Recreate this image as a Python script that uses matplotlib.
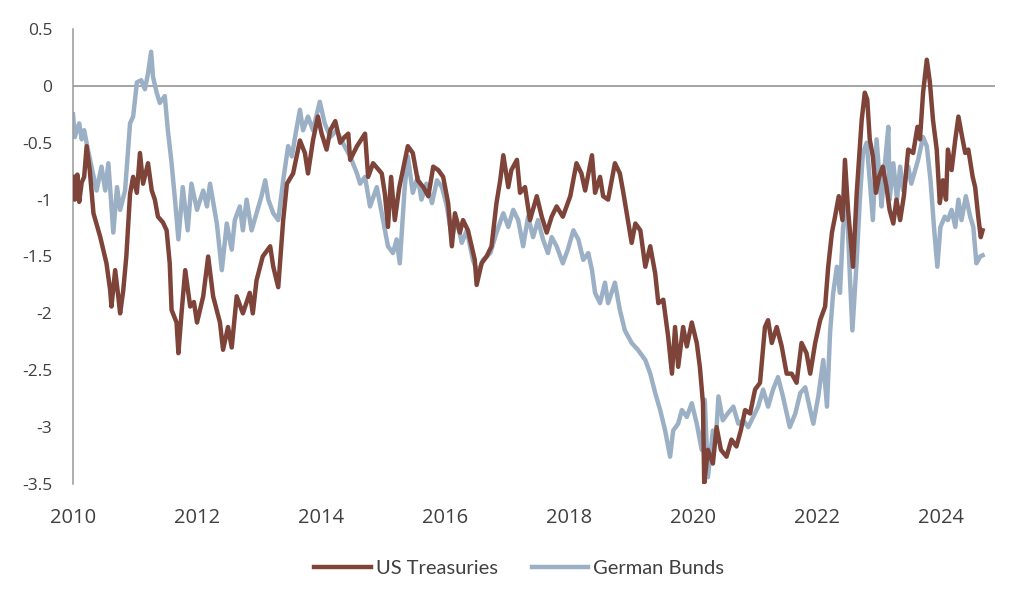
import matplotlib.pyplot as plt

# US Treasuries (decimal year, value)
us_dates = [
    2010.00, 2010.03, 2010.07, 2010.10, 2010.14, 2010.18, 2010.22, 2010.27, 2010.33, 2010.44,
    2010.54, 2010.60, 2010.62, 2010.68, 2010.73, 2010.76, 2010.81, 2010.86, 2010.92, 2010.97,
    2011.03, 2011.08, 2011.13, 2011.21, 2011.27, 2011.32, 2011.37, 2011.45, 2011.51, 2011.56,
    2011.59, 2011.67, 2011.70, 2011.75, 2011.81, 2011.89, 2011.95, 2012.00, 2012.10, 2012.18,
    2012.26, 2012.37, 2012.42, 2012.50, 2012.56, 2012.64, 2012.74, 2012.85, 2012.90, 2012.96,
    2013.06, 2013.18, 2013.23, 2013.31, 2013.39, 2013.45, 2013.55, 2013.66, 2013.74, 2013.79,
    2013.87, 2013.95, 2014.01, 2014.09, 2014.15, 2014.23, 2014.31, 2014.38, 2014.44, 2014.47,
    2014.58, 2014.71, 2014.76, 2014.84, 2014.98, 2015.03, 2015.08, 2015.13, 2015.19, 2015.26,
    2015.32, 2015.40, 2015.48, 2015.56, 2015.65, 2015.73, 2015.81, 2015.89, 2015.97, 2016.05,
    2016.11, 2016.16, 2016.24, 2016.29, 2016.37, 2016.43, 2016.48, 2016.51, 2016.59, 2016.67,
    2016.75, 2016.83, 2016.89, 2016.94, 2017.02, 2017.07, 2017.16, 2017.21, 2017.29, 2017.37,
    2017.48, 2017.56, 2017.64, 2017.72, 2017.80, 2017.90, 2018.02, 2018.12, 2018.20, 2018.26,
    2018.37, 2018.42, 2018.50, 2018.55, 2018.63, 2018.74, 2018.82, 2018.87, 2018.95, 2019.01,
    2019.07, 2019.15, 2019.23, 2019.31, 2019.39, 2019.44, 2019.52, 2019.60, 2019.66, 2019.71,
    2019.76, 2019.84, 2019.90, 2019.98, 2020.06, 2020.11, 2020.16, 2020.18, 2020.24, 2020.32,
    2020.38, 2020.45, 2020.54, 2020.62, 2020.70, 2020.77, 2020.84, 2020.92, 2021.00, 2021.08,
    2021.16, 2021.21, 2021.27, 2021.35, 2021.43, 2021.51, 2021.59, 2021.67, 2021.75, 2021.83,
    2021.89, 2021.97, 2022.05, 2022.13, 2022.18, 2022.24, 2022.29, 2022.35, 2022.41, 2022.45,
    2022.50, 2022.58, 2022.64, 2022.72, 2022.77, 2022.81, 2022.85, 2022.90, 2022.95, 2023.00,
    2023.06, 2023.12, 2023.17, 2023.23, 2023.28, 2023.34, 2023.40, 2023.47, 2023.55, 2023.62,
    2023.66, 2023.71, 2023.77, 2023.82, 2023.87, 2023.93, 2023.98, 2024.03, 2024.08, 2024.11,
    2024.17, 2024.23, 2024.28, 2024.33, 2024.39, 2024.44, 2024.51, 2024.55, 2024.60, 2024.64,
    2024.67,
]
us_vals = [
    -0.80, -1.00, -0.78, -1.02, -0.85, -0.80, -0.53, -0.74, -1.12, -1.33,
    -1.56, -1.80, -1.94, -1.62, -1.85, -2.00, -1.80, -1.50, -0.95, -0.80,
    -0.94, -0.59, -0.86, -0.68, -0.92, -1.00, -1.15, -1.20, -1.27, -1.56,
    -1.97, -2.08, -2.35, -2.00, -1.62, -1.94, -1.90, -2.08, -1.85, -1.50,
    -1.85, -2.08, -2.32, -2.12, -2.30, -1.85, -2.00, -1.82, -2.00, -1.71,
    -1.50, -1.41, -1.59, -1.77, -1.18, -0.86, -0.77, -0.48, -0.59, -0.77,
    -0.48, -0.27, -0.42, -0.56, -0.39, -0.31, -0.50, -0.45, -0.42, -0.65,
    -0.53, -0.42, -0.80, -0.68, -0.77, -0.95, -1.24, -0.80, -1.18, -0.90,
    -0.74, -0.53, -0.59, -0.83, -0.89, -0.97, -0.71, -0.74, -0.80, -1.03,
    -1.41, -1.12, -1.29, -1.18, -1.27, -1.41, -1.53, -1.75, -1.56, -1.50,
    -1.41, -1.03, -0.83, -0.61, -0.89, -0.74, -0.65, -0.94, -0.89, -1.18,
    -0.97, -1.15, -1.29, -1.15, -1.06, -1.15, -0.97, -0.68, -0.77, -0.92,
    -0.61, -0.94, -0.80, -0.97, -1.00, -0.68, -0.77, -0.92, -1.18, -1.38,
    -1.21, -1.27, -1.59, -1.41, -1.65, -1.91, -1.88, -2.21, -2.53, -2.12,
    -2.47, -2.12, -2.29, -2.08, -2.26, -2.47, -2.79, -3.49, -3.20, -3.32,
    -3.00, -3.20, -3.26, -3.11, -3.17, -3.03, -2.85, -2.88, -2.67, -2.61,
    -2.12, -2.06, -2.26, -2.12, -2.29, -2.53, -2.53, -2.61, -2.26, -2.35,
    -2.53, -2.26, -2.06, -1.94, -1.59, -1.29, -1.15, -0.97, -1.18, -0.65,
    -1.09, -1.59, -0.94, -0.30, -0.06, -0.12, -0.47, -0.62, -0.94, -0.80,
    -0.71, -0.89, -1.09, -1.21, -1.00, -1.18, -0.97, -0.56, -0.59, -0.36,
    -0.47, -0.06, 0.23, 0.03, -0.30, -0.56, -1.03, -0.83, -1.00, -0.56,
    -0.74, -0.47, -0.27, -0.42, -0.59, -0.56, -0.80, -0.89, -1.15, -1.33,
    -1.27,
]

# German Bunds (decimal year, value)
de_dates = [
    2010.00, 2010.03, 2010.06, 2010.10, 2010.14, 2010.18, 2010.24, 2010.38, 2010.46, 2010.52,
    2010.57, 2010.65, 2010.71, 2010.76, 2010.84, 2010.92, 2010.97, 2011.03, 2011.10, 2011.16,
    2011.21, 2011.26, 2011.29, 2011.35, 2011.40, 2011.48, 2011.53, 2011.59, 2011.65, 2011.70,
    2011.77, 2011.85, 2011.91, 2012.00, 2012.10, 2012.16, 2012.21, 2012.32, 2012.40, 2012.48,
    2012.56, 2012.61, 2012.69, 2012.74, 2012.80, 2012.88, 2012.96, 2013.04, 2013.10, 2013.15,
    2013.23, 2013.31, 2013.39, 2013.47, 2013.53, 2013.60, 2013.66, 2013.71, 2013.79, 2013.87,
    2013.98, 2014.06, 2014.15, 2014.25, 2014.35, 2014.47, 2014.58, 2014.63, 2014.71, 2014.79,
    2014.90, 2015.00, 2015.08, 2015.16, 2015.22, 2015.27, 2015.35, 2015.40, 2015.48, 2015.56,
    2015.62, 2015.70, 2015.79, 2015.87, 2015.95, 2016.03, 2016.11, 2016.19, 2016.27, 2016.35,
    2016.45, 2016.53, 2016.61, 2016.73, 2016.83, 2016.94, 2017.02, 2017.10, 2017.18, 2017.26,
    2017.34, 2017.42, 2017.50, 2017.58, 2017.66, 2017.72, 2017.80, 2017.90, 2017.98, 2018.07,
    2018.15, 2018.23, 2018.31, 2018.37, 2018.42, 2018.50, 2018.58, 2018.63, 2018.74, 2018.82,
    2018.90, 2019.01, 2019.11, 2019.23, 2019.31, 2019.39, 2019.47, 2019.55, 2019.63, 2019.68,
    2019.76, 2019.82, 2019.90, 2019.98, 2020.06, 2020.14, 2020.19, 2020.24, 2020.32, 2020.37,
    2020.41, 2020.48, 2020.56, 2020.65, 2020.73, 2020.81, 2020.89, 2020.97, 2021.05, 2021.13,
    2021.21, 2021.29, 2021.37, 2021.45, 2021.56, 2021.65, 2021.73, 2021.81, 2021.89, 2021.94,
    2022.02, 2022.10, 2022.16, 2022.21, 2022.26, 2022.32, 2022.37, 2022.42, 2022.48, 2022.53,
    2022.57, 2022.64, 2022.69, 2022.74, 2022.80, 2022.85, 2022.90, 2022.96, 2023.01, 2023.04,
    2023.09, 2023.15, 2023.17, 2023.23, 2023.29, 2023.34, 2023.39, 2023.47, 2023.52, 2023.63,
    2023.71, 2023.77, 2023.83, 2023.89, 2023.94, 2023.99, 2024.06, 2024.11, 2024.17, 2024.23,
    2024.28, 2024.33, 2024.40, 2024.47, 2024.52, 2024.57, 2024.63, 2024.67,
]
de_vals = [
    -0.25, -0.45, -0.39, -0.33, -0.47, -0.39, -0.56, -0.92, -0.71, -0.92,
    -0.68, -1.29, -0.89, -1.09, -0.92, -0.33, -0.27, 0.03, 0.05, -0.03,
    0.11, 0.30, 0.08, -0.06, -0.15, -0.09, -0.39, -0.68, -1.03, -1.35,
    -0.89, -1.27, -0.86, -1.09, -0.92, -1.06, -0.86, -1.21, -1.62, -1.21,
    -1.44, -1.18, -1.06, -1.27, -1.00, -1.27, -1.12, -0.97, -0.83, -1.00,
    -1.12, -1.18, -0.83, -0.53, -0.62, -0.39, -0.21, -0.39, -0.27, -0.39,
    -0.14, -0.33, -0.45, -0.39, -0.50, -0.62, -0.77, -0.86, -0.80, -1.06,
    -0.89, -1.18, -1.41, -1.47, -1.35, -1.56, -0.89, -0.62, -0.94, -0.80,
    -1.00, -0.86, -1.03, -0.83, -0.89, -1.06, -1.33, -1.18, -1.38, -1.27,
    -1.53, -1.65, -1.53, -1.47, -1.29, -1.12, -1.24, -1.09, -1.18, -1.41,
    -1.15, -1.33, -1.18, -1.35, -1.47, -1.33, -1.41, -1.56, -1.44, -1.27,
    -1.35, -1.53, -1.47, -1.62, -1.82, -1.91, -1.73, -1.91, -1.73, -1.97,
    -2.15, -2.26, -2.32, -2.41, -2.53, -2.70, -2.85, -3.03, -3.26, -3.03,
    -2.97, -2.85, -2.91, -2.79, -2.97, -3.20, -2.76, -3.44, -3.03, -3.09,
    -2.73, -2.94, -2.88, -2.82, -2.97, -2.94, -3.00, -2.91, -2.82, -2.67,
    -2.82, -2.67, -2.56, -2.73, -3.00, -2.88, -2.70, -2.65, -2.85, -2.97,
    -2.73, -2.41, -2.82, -2.17, -1.82, -1.59, -1.82, -1.24, -1.03, -1.68,
    -2.15, -1.53, -1.00, -0.59, -0.50, -0.83, -1.18, -0.47, -0.83, -1.06,
    -0.71, -0.36, -1.00, -0.68, -1.00, -0.71, -0.92, -0.71, -0.86, -0.65,
    -0.45, -0.53, -0.83, -1.27, -1.59, -1.24, -1.15, -1.18, -1.09, -1.24,
    -1.00, -1.18, -0.97, -1.15, -1.24, -1.56, -1.50, -1.49,
]

x_ticks = [2010, 2012, 2014, 2016, 2018, 2020, 2022, 2024]
y_ticks = [0.5, 0, -0.5, -1, -1.5, -2, -2.5, -3, -3.5]

plt.rcParams['font.family'] = ['Open Sans', 'DejaVu Sans']
text_col = '#404040'

fig = plt.figure(figsize=(10.24, 6.07), dpi=100)
ax = fig.add_axes([73 / 1024, 123 / 607, 922 / 1024, 455 / 607])

ax.plot(us_dates, us_vals, color='#7e4439', lw=3.2, solid_joinstyle='round',
        label='US Treasuries', zorder=3)
ax.plot(de_dates, de_vals, color='#9bafc5', lw=3.2, solid_joinstyle='round',
        label='German Bunds', zorder=2)

ax.axhline(0, color='#8c8c8c', lw=1.1, zorder=1)

ax.set_xlim(2010, 2024.87)
ax.set_ylim(-3.5, 0.5)
ax.set_xticks(x_ticks)
ax.set_xticklabels([str(t) for t in x_ticks])
ax.set_yticks(y_ticks)
ax.set_yticklabels([('%g' % t) for t in y_ticks])

for s in ['top', 'right', 'bottom']:
    ax.spines[s].set_visible(False)
ax.spines['left'].set_color('#999999')
ax.spines['left'].set_linewidth(1.1)

ax.tick_params(axis='x', length=0, pad=17, labelsize=14.5, labelcolor=text_col)
ax.tick_params(axis='y', length=0, pad=15, labelsize=12.5, labelcolor=text_col)

leg = ax.legend(loc='center', bbox_to_anchor=(0.484, -0.185), ncol=2, frameon=False,
                handlelength=2.8, handletextpad=0.25, columnspacing=1.7,
                prop={'family': 'Lato', 'size': 14.5})
for t in leg.get_texts():
    t.set_color(text_col)

fig.savefig('out.png', dpi=100)
